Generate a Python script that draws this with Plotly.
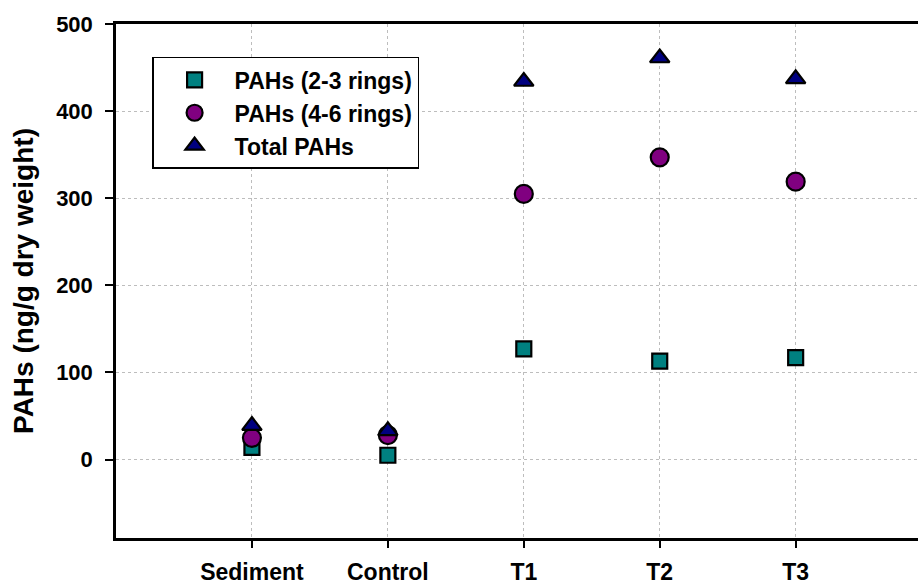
import plotly.graph_objects as go

categories = ["Sediment", "Control", "T1", "T2", "T3"]
pahs_2_3 = [14, 5, 127, 113, 117]
pahs_4_6 = [25, 28, 305, 347, 319]
total_pahs = [39, 33, 434, 461, 437]
series_names = ["PAHs (2-3 rings)", "PAHs (4-6 rings)", "Total PAHs"]
y_ticks = [0, 100, 200, 300, 400, 500]

FONT = "Liberation Sans, Arial, sans-serif"

fig = go.Figure()
styles = [
    (pahs_2_3, "square", 15, "#008080"),
    (pahs_4_6, "circle", 18, "#800080"),
    (total_pahs, "triangle-up", 17, "#000080"),
]
for name, (vals, sym, size, col) in zip(series_names, styles):
    fig.add_trace(go.Scatter(
        x=categories, y=vals, mode="markers", name=name,
        marker=dict(symbol=sym, size=size, color=col,
                    line=dict(color="black", width=2.2)),
    ))

fig.update_layout(
    width=918, height=585,
    margin=dict(l=116, r=0, t=24, b=44),
    plot_bgcolor="white", paper_bgcolor="white",
    font=dict(family=FONT, size=21, color="black", weight="bold"),
    showlegend=True,
    legend=dict(
        x=0.045, y=0.936, xanchor="left", yanchor="top",
        bordercolor="black", borderwidth=1.5, bgcolor="white",
        font=dict(family=FONT, size=23, color="black", weight="bold"),
        indentation=1, itemwidth=70, itemsizing="trace", tracegroupgap=0,
    ),
    annotations=[dict(
        text="PAHs (ng/g dry weight)", textangle=-90,
        xref="paper", yref="paper", x=-0.116, y=0.5,
        xanchor="center", yanchor="middle", showarrow=False,
        font=dict(family=FONT, size=28, color="black", weight="bold"),
    )],
)

fig.update_xaxes(
    type="category", categoryorder="array", categoryarray=categories,
    range=[-1, 4.9],
    showline=True, linecolor="black", linewidth=2.5, mirror=True,
    ticks="outside", ticklen=7, tickwidth=2, tickcolor="black",
    showgrid=True, gridcolor="#bdbdbd", gridwidth=1, griddash="dot",
    tickfont=dict(family=FONT, size=23, color="black", weight="bold"),
    ticklabelstandoff=5, zeroline=False,
)
fig.update_yaxes(
    range=[-90, 500], tickvals=y_ticks,
    showline=True, linecolor="black", linewidth=2.5, mirror=False,
    ticks="outside", ticklen=8, tickwidth=1.5, tickcolor="black",
    showgrid=True, gridcolor="#bdbdbd", gridwidth=1, griddash="dot",
    tickfont=dict(family=FONT, size=22, color="black", weight="bold"),
    ticklabelstandoff=8, zeroline=False,
)

fig.write_html("out.html")
